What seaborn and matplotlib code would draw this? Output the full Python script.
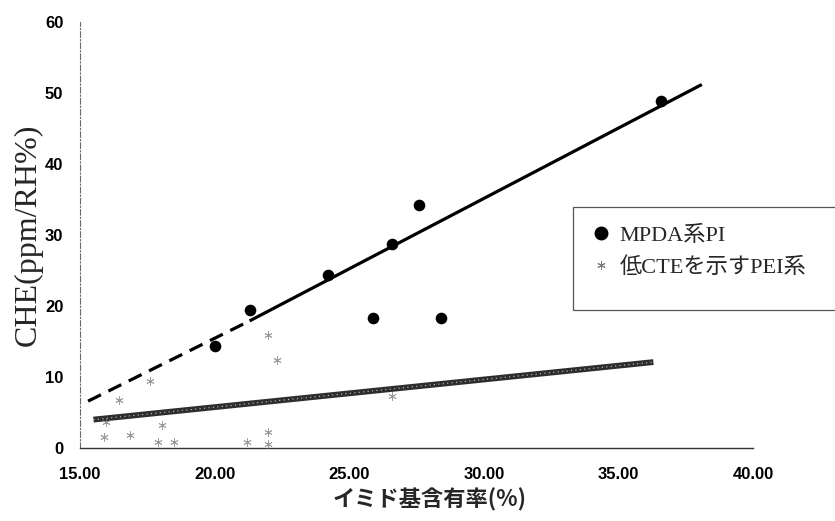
import numpy as np
import pandas as pd
import matplotlib
matplotlib.use('Agg')
import matplotlib.pyplot as plt
from matplotlib import font_manager
from matplotlib.lines import Line2D
from matplotlib.patches import Rectangle
import seaborn as sns

# MPDA-based PI (black dots)
mpda_x = [20.0, 21.3, 24.2, 25.9, 26.6, 27.6, 28.4, 36.6]
mpda_y = [14.4, 19.4, 24.3, 18.3, 28.7, 34.2, 18.3, 48.9]

# low-CTE PEI (faint grey marks)
pei_x = [15.95, 15.9, 16.45, 16.85, 17.6, 18.05, 17.9, 18.5, 21.2, 22.0, 22.3, 22.0, 22.0, 26.6]
pei_y = [3.7, 1.6, 6.8, 1.9, 9.4, 3.3, 0.8, 0.8, 0.8, 15.9, 12.4, 2.3, 0.5, 7.3]

# trend lines (end points)
mpda_fit_x = [21.3, 38.1]
mpda_fit_y = [17.9, 51.2]
mpda_ext_x = [15.3, 21.3]
mpda_ext_y = [6.6, 17.9]
pei_fit_x = [15.5, 36.3]
pei_fit_y = [4.0, 12.1]

x_ticks = [15, 20, 25, 30, 35, 40]
x_ticklabels = ["15.00", "20.00", "25.00", "30.00", "35.00", "40.00"]
y_ticks = [0, 10, 20, 30, 40, 50, 60]

mpda_label = "MPDA系PI"
pei_label = "低CTEを示すPEI系"
x_title = "イミド基含有率(%)"
y_title = "CHE(ppm/RH%)"

sns.set_theme(style="white")


def pick(name, fallback):
    try:
        font_manager.findfont(name, fallback_to_default=False)
        return name
    except Exception:
        return fallback


tick_font = pick("Liberation Sans Narrow", "Liberation Sans")
serif_cjk = ["Liberation Serif", "Noto Sans CJK JP"]

fig = plt.figure(figsize=(8.35, 5.21), dpi=100)
ax = fig.add_axes([80 / 835, 1 - 448 / 521, 673 / 835, 426 / 521])

mpda = pd.DataFrame({"x": mpda_x, "y": mpda_y})
pei = pd.DataFrame({"x": pei_x, "y": pei_y})

# grey PEI trend: dark band with light speckle
sns.lineplot(x=pei_fit_x, y=pei_fit_y, ax=ax, color="#2e2e2e", lw=4.2,
             solid_capstyle="butt", zorder=2)
sns.lineplot(x=pei_fit_x, y=pei_fit_y, ax=ax, color="#c8c8c8", lw=0.8,
             ls=(0, (1, 3)), zorder=3)

sns.lineplot(x=mpda_ext_x, y=mpda_ext_y, ax=ax, color="black", lw=2.3,
             ls=(0, (4.5, 2.6)), zorder=2)
sns.lineplot(x=mpda_fit_x, y=mpda_fit_y, ax=ax, color="black", lw=2.3,
             solid_capstyle="butt", zorder=2)

sns.scatterplot(data=pei, x="x", y="y", ax=ax, marker=(6, 2, 0), s=30,
                color="#7a7a7a", linewidth=0.6, alpha=0.75, zorder=3)
sns.scatterplot(data=mpda, x="x", y="y", ax=ax, marker="o", s=70,
                color="black", edgecolor="black", linewidth=0, zorder=4)

ax.set_xlim(15, 40)
ax.set_ylim(0, 60)
ax.set_xticks(x_ticks)
ax.set_xticklabels(x_ticklabels)
ax.set_yticks(y_ticks)
ax.set_xlabel("")
ax.set_ylabel("")
ax.tick_params(axis="both", direction="in", length=3, width=0.8, color="#555555")
ax.tick_params(axis="x", pad=14)
ax.tick_params(axis="y", pad=12)
for lab in ax.get_xticklabels() + ax.get_yticklabels():
    lab.set_fontfamily(tick_font)
    lab.set_fontweight("bold")
    lab.set_fontsize(12)
    lab.set_color("black")

for side in ["top", "right"]:
    ax.spines[side].set_visible(False)
ax.spines["left"].set_color("#6a6a6a")
ax.spines["left"].set_linewidth(0.8)
ax.spines["left"].set_linestyle((0, (5, 2, 1, 2)))
ax.spines["bottom"].set_color("#333333")
ax.spines["bottom"].set_linewidth(1.0)

fig.text(28 / 835, 1 - 235 / 521, y_title, rotation=90, ha="center", va="center",
         fontsize=23, family="Liberation Serif")
fig.text(430 / 835, 1 - 500 / 521, x_title, ha="center", va="center",
         fontsize=16, fontweight="bold", family="Noto Sans CJK JP")

# legend box runs off the right edge like the original
fig.patches.append(Rectangle((573 / 835, 1 - 310 / 521), 300 / 835, 103 / 521,
                             transform=fig.transFigure, fill=False,
                             edgecolor="#555555", lw=0.9, clip_on=False))
handles = [
    Line2D([], [], ls="none", marker="o", ms=9, color="black"),
    Line2D([], [], ls="none", marker=(6, 2, 0), ms=6, color="#7a7a7a", mew=0.7),
]
leg = fig.legend(handles, [mpda_label, pei_label], loc="upper left",
                 bbox_to_anchor=(577 / 835, 1 - 210 / 521), frameon=False,
                 handlelength=0.8, handletextpad=0.4, labelspacing=0.5,
                 borderpad=0.2, prop={"family": serif_cjk, "size": 16})

plt.savefig("out.png", dpi=100)
plt.close()
